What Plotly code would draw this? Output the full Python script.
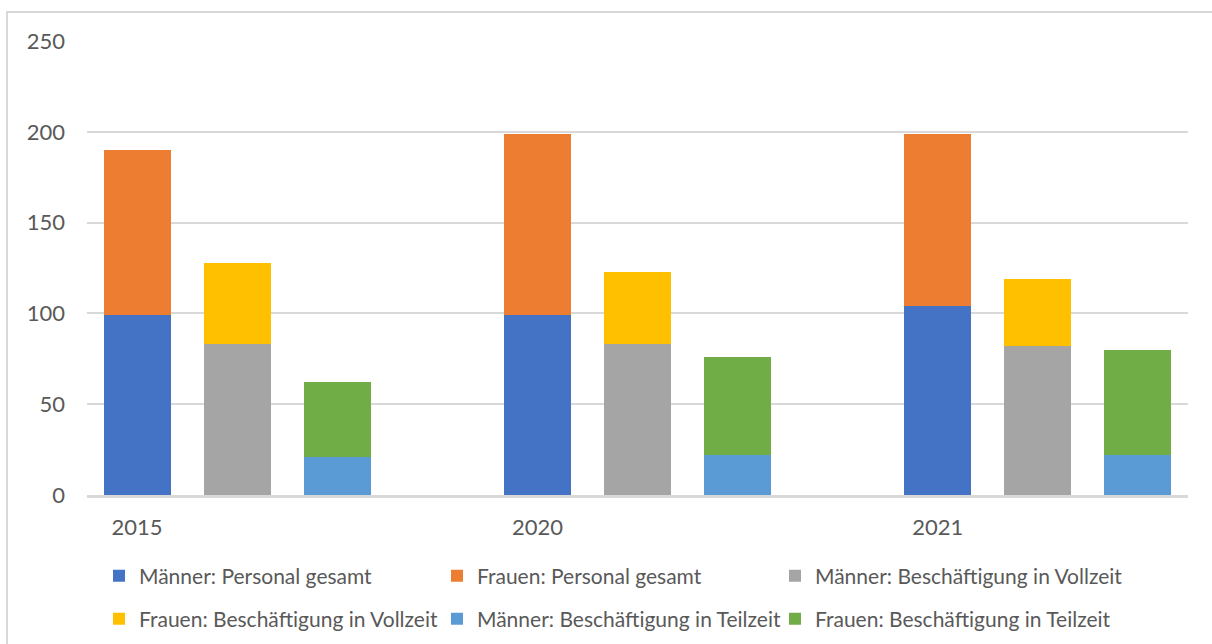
import plotly.graph_objects as go

years = ["2015", "2020", "2021"]
measures = ["Personal gesamt", "Beschäftigung in Vollzeit", "Beschäftigung in Teilzeit"]

maenner_gesamt = [99, 99, 104]
frauen_gesamt = [91, 100, 95]
maenner_vollzeit = [83, 83, 82]
frauen_vollzeit = [45, 40, 37]
maenner_teilzeit = [21, 22, 22]
frauen_teilzeit = [41, 54, 58]

series = [
    ("Männer: Personal gesamt", 0, maenner_gesamt, "#4472C4"),
    ("Frauen: Personal gesamt", 0, frauen_gesamt, "#ED7D31"),
    ("Männer: Beschäftigung in Vollzeit", 1, maenner_vollzeit, "#A5A5A5"),
    ("Frauen: Beschäftigung in Vollzeit", 1, frauen_vollzeit, "#FFC000"),
    ("Männer: Beschäftigung in Teilzeit", 2, maenner_teilzeit, "#5B9BD5"),
    ("Frauen: Beschäftigung in Teilzeit", 2, frauen_teilzeit, "#70AD47"),
]

slots_per_group = len(measures) + 1
group_pos = [g * slots_per_group for g in range(len(years))]

W, H = 1212, 644
L, R, T, B = 87, 24, 41, 149
pw, ph = W - L - R, H - T - B
def px(x):
    return (x - L) / pw
def py(y):
    return (H - B - y) / ph
def cx(x):
    return x / W
def cy(y):
    return (H - y) / H

font_family = "Lato, 'Open Sans', sans-serif"
txt = "#595959"

# legend grid: 3 columns x 2 rows (pixel layout)
leg_cols_x = [99, 437, 775]
leg_rows_y = [576, 619]

fig = go.Figure()
legends = {}
for i, (name, m, vals, color) in enumerate(series):
    key = "legend" if i == 0 else f"legend{i + 1}"
    fig.add_trace(go.Bar(
        x=[p + m for p in group_pos], y=vals, name=name,
        marker=dict(color=color, line=dict(width=0)),
        width=0.67, legend=key,
    ))
    legends[key] = dict(
        orientation="h", xref="container", yref="container",
        xanchor="left", yanchor="middle",
        x=cx(leg_cols_x[i % 3]), y=cy(leg_rows_y[i // 3]),
        itemwidth=30, font=dict(size=21, color=txt),
        bgcolor="rgba(0,0,0,0)", itemclick=False, itemdoubleclick=False,
    )

fig.update_layout(
    width=W, height=H,
    margin=dict(l=L, r=R, t=T, b=B, autoexpand=False),
    barmode="stack",
    plot_bgcolor="white", paper_bgcolor="white",
    font=dict(family=font_family, color=txt, size=21),
    xaxis=dict(
        range=[-0.5, group_pos[-1] + len(measures) - 0.5],
        tickvals=group_pos, ticktext=years,
        showgrid=False, zeroline=False,
        showline=True, linecolor="#D9D9D9", linewidth=2.5,
        ticks="", ticklabelstandoff=11,
        tickfont=dict(size=22, color=txt),
    ),
    yaxis=dict(
        range=[0, 250], tickvals=[0, 50, 100, 150, 200, 250],
        showgrid=True, gridcolor="#D9D9D9", gridwidth=1.5,
        zeroline=False, showline=False, ticks="",
        ticklabelstandoff=21,
        tickfont=dict(size=22, color=txt),
    ),
    shapes=[dict(
        type="rect", xref="paper", yref="paper",
        x0=px(7), x1=px(W + 20), y0=py(H + 20), y1=py(12),
        line=dict(color="#D9D9D9", width=2), fillcolor="rgba(0,0,0,0)", layer="below",
    )],
    showlegend=True,
    **legends,
)

fig.write_html("out.html")
